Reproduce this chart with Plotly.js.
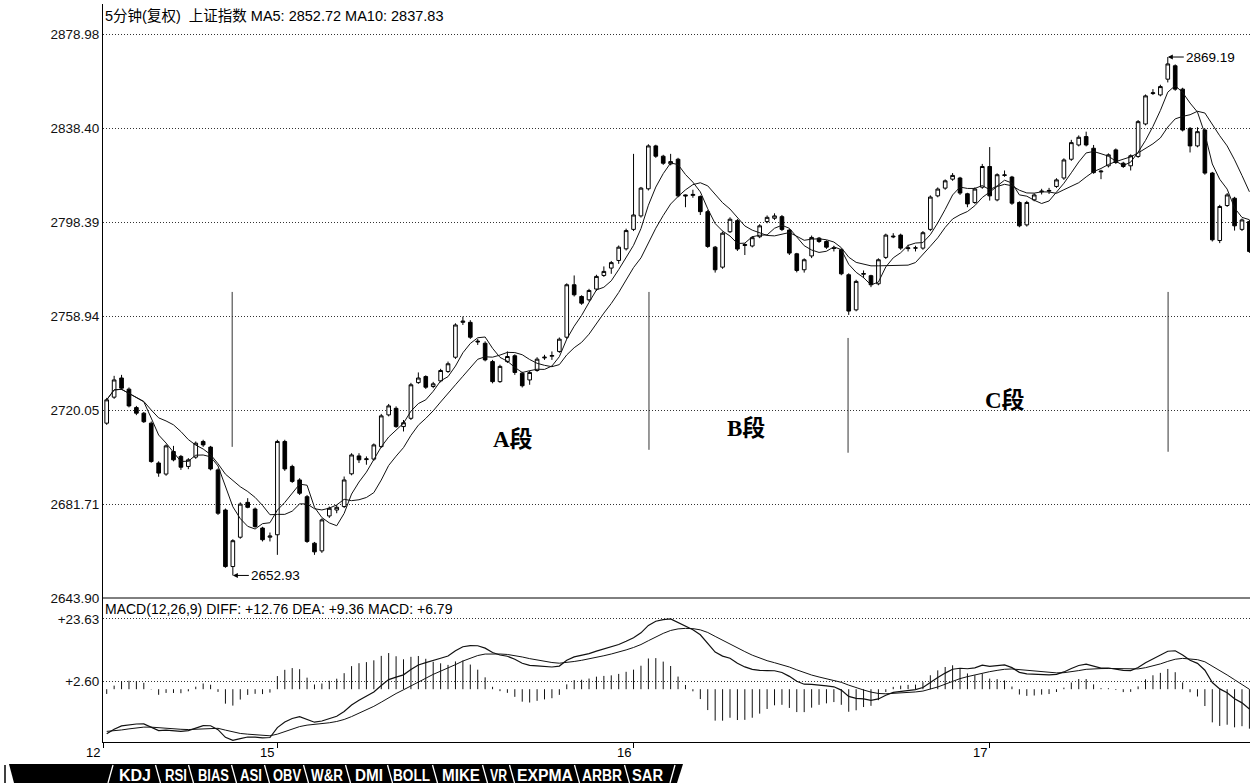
<!DOCTYPE html>
<html><head><meta charset="utf-8">
<script src="https://cdn.plot.ly/plotly-3.0.1.min.js"></script>
<style>
html,body{margin:0;padding:0;background:#fff;overflow:hidden;}
#chart{position:absolute;left:0;top:0;width:1252px;height:783px;}
#tabs{position:absolute;left:0;top:0;pointer-events:none;}
</style>
</head><body>
<div id="chart"></div>
<svg id="tabs" width="1252" height="783" xmlns="http://www.w3.org/2000/svg"></svg>
<script>
// ---------------- data (5-minute bars, 上证指数) ----------------
const opens = [2714.7,2725.4,2733.3,2728.7,2721.1,2718.8,2714.7,2698.4,2693.9,2703.1,
2701.1,2697.0,2700.8,2707.2,2704.9,2695.6,2679.3,2656.5,2668.3,2682.4,
2679.7,2672.0,2668.3,2669.3,2707.2,2697.0,2691.5,2684.7,2665.9,2662.8,
2676.9,2679.3,2680.7,2694.0,2701.3,2699.8,2700.0,2705.1,2718.1,2720.8,
2713.3,2716.7,2731.4,2733.9,2729.8,2732.1,2736.0,2741.9,2756.4,2756.4,
2748.6,2747.7,2740.1,2731.8,2740.1,2742.5,2735.3,2732.5,2736.4,2741.6,
2742.3,2744.3,2750.2,2772.1,2767.2,2765.8,2770.3,2776.0,2779.1,2782.3,
2787.2,2795.4,2801.1,2812.6,2830.9,2826.5,2823.2,2825.2,2810.0,2809.8,
2809.3,2802.9,2787.9,2779.5,2794.4,2799.1,2788.6,2788.4,2792.3,2798.7,
2800.1,2800.8,2795.1,2785.1,2778.4,2784.2,2791.7,2790.3,2787.6,2786.8,
2776.3,2761.6,2776.5,2775.9,2772.5,2783.6,2792.2,2793.0,2787.3,2787.5,
2787.5,2795.4,2809.6,2812.9,2816.7,2817.2,2810.5,2806.8,2813.3,2822.1,
2807.9,2818.3,2817.6,2806.8,2797.3,2807.9,2811.3,2811.6,2813.6,2817.2,
2825.2,2831.3,2834.9,2829.9,2819.8,2822.4,2829.2,2823.5,2822.4,2826.4,
2840.3,2853.4,2852.8,2859.6,2865.4,2855.3,2838.4,2830.9,2837.7,2819.3,
2790.7,2805.5,2808.6,2795.4,2798.7];
const highs = [2725.1,2734.2,2734.6,2729.4,2721.8,2719.3,2715.4,2699.1,2706.0,2705.4,
2701.7,2700.4,2707.2,2707.9,2705.4,2696.2,2679.9,2667.5,2682.4,2684.1,
2680.3,2672.5,2670.2,2707.9,2707.9,2697.7,2692.2,2685.4,2666.4,2675.9,
2680.7,2681.3,2692.9,2702.4,2702.4,2701.1,2706.4,2718.5,2722.6,2721.6,
2716.0,2731.3,2735.6,2734.4,2731.7,2737.1,2740.1,2756.0,2758.8,2757.3,
2749.5,2748.5,2740.8,2738.8,2744.3,2743.1,2735.9,2736.3,2741.9,2742.9,
2744.3,2750.1,2772.7,2776.0,2767.7,2770.4,2776.3,2779.8,2782.1,2788.6,
2795.7,2827.5,2813.4,2831.6,2831.4,2827.1,2827.5,2825.8,2810.2,2812.2,
2809.8,2803.6,2788.4,2794.5,2800.5,2799.8,2789.6,2792.6,2797.6,2801.3,
2802.2,2801.5,2795.6,2785.5,2783.2,2792.8,2792.2,2790.8,2788.5,2787.4,
2776.9,2774.2,2778.1,2776.3,2783.2,2793.6,2793.8,2793.6,2788.9,2788.5,
2794.7,2809.8,2813.2,2816.6,2819.3,2817.7,2810.9,2813.2,2823.2,2830.4,
2819.2,2820.4,2818.1,2807.3,2807.5,2810.7,2812.6,2813.0,2817.1,2825.6,
2833.5,2835.4,2837.0,2831.3,2820.7,2827.7,2829.8,2824.1,2827.3,2842.0,
2853.0,2855.3,2857.2,2869.19,2866.0,2855.9,2839.0,2838.9,2838.4,2819.8,
2805.8,2810.8,2809.2,2800.0,2799.4];
const lows = [2714.0,2724.7,2728.4,2721.2,2718.0,2714.8,2698.5,2692.8,2693.2,2699.1,
2695.6,2695.9,2700.1,2705.0,2695.4,2677.3,2656.0,2652.93,2667.7,2680.0,
2672.1,2666.6,2666.6,2661.2,2695.2,2690.3,2685.4,2666.0,2661.2,2662.0,
2676.1,2678.0,2680.1,2693.4,2698.4,2697.7,2699.3,2704.6,2717.5,2712.8,
2711.3,2716.0,2730.9,2728.8,2729.1,2731.5,2735.4,2741.2,2755.3,2749.5,
2747.0,2740.2,2731.1,2731.3,2739.5,2734.6,2729.4,2730.5,2735.9,2740.8,
2740.8,2743.7,2749.5,2767.2,2763.7,2765.1,2769.5,2775.4,2776.7,2780.9,
2786.5,2794.7,2800.4,2811.9,2825.8,2822.8,2822.6,2809.0,2804.8,2808.8,
2801.5,2787.6,2777.2,2778.8,2793.9,2786.3,2784.6,2787.8,2791.7,2798.0,
2799.4,2794.7,2784.6,2777.3,2777.2,2783.3,2789.7,2787.2,2786.1,2776.1,
2759.5,2761.0,2774.9,2771.1,2771.9,2782.9,2791.7,2786.8,2786.1,2786.1,
2786.8,2794.7,2809.0,2812.2,2816.0,2810.0,2804.8,2806.2,2812.6,2807.6,
2807.3,2817.7,2805.8,2796.3,2796.6,2807.3,2810.2,2810.4,2813.0,2816.4,
2824.5,2830.7,2830.7,2819.0,2816.7,2821.7,2823.2,2821.5,2820.4,2825.8,
2839.7,2852.8,2852.2,2858.2,2854.6,2837.1,2828.1,2830.3,2818.6,2790.3,
2789.6,2804.9,2794.9,2794.7,2785.5];
const closes = [2724.3,2732.5,2729.1,2721.8,2718.8,2715.3,2699.0,2694.3,2705.4,2699.7,
2696.7,2699.7,2706.5,2705.8,2696.0,2678.0,2656.5,2666.9,2681.7,2680.4,
2672.6,2667.3,2668.8,2707.2,2696.0,2690.9,2686.1,2666.6,2662.4,2675.3,
2680.0,2680.4,2691.5,2701.7,2699.7,2700.1,2705.8,2717.7,2721.8,2713.3,
2714.9,2730.5,2733.3,2729.5,2730.9,2736.4,2739.2,2755.3,2756.9,2750.2,
2748.3,2740.8,2731.8,2738.1,2742.2,2735.6,2730.1,2735.6,2741.1,2741.9,
2742.6,2749.4,2772.1,2767.9,2764.4,2769.7,2775.6,2777.7,2781.4,2787.9,
2794.9,2801.5,2812.9,2830.9,2826.5,2823.5,2824.2,2809.6,2809.6,2810.2,
2802.9,2788.2,2778.4,2793.8,2799.7,2787.1,2789.0,2791.9,2796.9,2800.5,
2801.1,2795.4,2785.4,2778.1,2782.6,2792.0,2790.3,2787.9,2787.4,2776.7,
2761.1,2773.5,2776.8,2772.1,2782.6,2793.0,2792.5,2787.5,2787.6,2787.6,
2794.0,2809.1,2812.5,2816.0,2818.3,2810.8,2806.2,2812.5,2822.1,2809.6,
2818.6,2818.5,2806.5,2796.9,2806.8,2810.0,2811.6,2811.9,2816.4,2824.9,
2832.3,2834.6,2831.3,2819.5,2820.1,2827.1,2823.8,2822.1,2826.7,2841.3,
2852.4,2853.7,2856.4,2866.2,2855.3,2837.7,2830.9,2837.0,2819.3,2791.0,
2805.1,2810.0,2796.9,2799.4,2786.1];

// price-axis tick labels and MACD tick labels
const priceTicks = [2643.90, 2681.71, 2720.05, 2758.94, 2798.39, 2838.40, 2878.98];
const priceTickText = ['2643.90','2681.71','2720.05','2758.94','2798.39','2838.40','2878.98'];
const macdTicks = [23.63, 2.60];
const macdTickText = ['+23.63', '+2.60'];
// trading-day labels and the bar index where each day begins
const dayLabels = ['12', '15', '16', '17'];
const dayStart = [-0.45, 23, 71, 119];
// MACD state carried in from bars before the first one shown
const seedEma12 = 2727.0;
const seedEma26 = 2742.0;
const seedDea = -14.2;
// segment markers (bar index, top and bottom price)
const segIndex = [16.91, 73.08, 99.91, 143.04];
const segTop = [2769.1, 2769.1, 2749.9, 2769.1];
const segBottom = [2705.0, 2703.8, 2702.6, 2703.0];
const segNames = ['A段', 'B段', 'C段'];
const segNameIndex = [54.8, 86.2, 121.1];
const segNamePrice = [2708.3, 2712.8, 2724.3];
// extreme labels
const lowIndex = 17, lowValue = 2652.93;
const highIndex = 143, highValue = 2869.19;

// ---------------- derived series ----------------
const n = closes.length;
const idx = closes.map((_, i) => i);
function movingAverage(p) {
  return closes.map((_, i) => {
    const s = Math.max(0, i - p + 1);
    let sum = 0;
    for (let k = s; k <= i; k++) sum += closes[k];
    return sum / (i - s + 1);
  });
}
const ma5 = movingAverage(5);
const ma10 = movingAverage(10);

const diff = [], dea = [], macd = [];
let e12 = seedEma12, e26 = seedEma26, d = seedDea;
for (let i = 0; i < n; i++) {
  if (i > 0) {
    e12 = e12 + (closes[i] - e12) * 2 / 13;
    e26 = e26 + (closes[i] - e26) * 2 / 27;
  }
  const df = e12 - e26;
  if (i > 0) d = d + (df - d) * 2 / 10;
  diff.push(df); dea.push(d); macd.push(2 * (df - d));
}
const histX = [], histY = [];
for (let i = 0; i < n; i++) { histX.push(i, i, null); histY.push(0, macd[i], null); }

const segX = [], segY = [];
segIndex.forEach((x, k) => { segX.push(x, x, null); segY.push(segBottom[k], segTop[k], null); });

// ---------------- layout geometry ----------------
const H = 783, plotTop = 4, plotBottom = 742, sepY = 598;
const plotH = plotBottom - plotTop;
const mainDomainBottom = (plotBottom - sepY) / plotH;
const logBottom = Math.log10(priceTicks[0]);
const logPerPx = (Math.log10(priceTicks[6]) - logBottom) / 563.5;
const logTop = logBottom + logPerPx * (sepY - plotTop);
const pyToPaper = py => (plotBottom - py) / plotH;

const fontLatin = 'Liberation Sans, Arial, Noto Sans CJK SC, sans-serif';

const traces = [
  {type:'candlestick', x: idx, open: opens, high: highs, low: lows, close: closes,
   xaxis:'x', yaxis:'y', whiskerwidth:0, hoverinfo:'skip', showlegend:false,
   increasing:{line:{color:'#000', width:1}, fillcolor:'#fff'},
   decreasing:{line:{color:'#000', width:1}, fillcolor:'#000'}},
  {type:'scatter', mode:'lines', x: idx, y: ma5, xaxis:'x', yaxis:'y',
   line:{color:'#111', width:1}, hoverinfo:'skip', showlegend:false},
  {type:'scatter', mode:'lines', x: idx, y: ma10, xaxis:'x', yaxis:'y',
   line:{color:'#111', width:1}, hoverinfo:'skip', showlegend:false},
  {type:'scatter', mode:'lines', x: segX, y: segY, xaxis:'x', yaxis:'y',
   line:{color:'#333', width:1}, hoverinfo:'skip', showlegend:false},
  {type:'scatter', mode:'lines', x: histX, y: histY, xaxis:'x', yaxis:'y2',
   line:{color:'#111', width:1}, hoverinfo:'skip', showlegend:false},
  {type:'scatter', mode:'lines', x: idx, y: diff, xaxis:'x', yaxis:'y2',
   line:{color:'#111', width:1.2}, hoverinfo:'skip', showlegend:false},
  {type:'scatter', mode:'lines', x: idx, y: dea, xaxis:'x', yaxis:'y2',
   line:{color:'#111', width:1}, hoverinfo:'skip', showlegend:false}
];

const annotations = [
  {xref:'paper', yref:'paper', x:0, y:pyToPaper(16), xanchor:'left', yanchor:'middle', xshift:0,
   showarrow:false, text:'5分钟(复权)&nbsp; 上证指数 MA5: 2852.72 MA10: 2837.83',
   font:{family:fontLatin, size:14.5, color:'#000'}},
  {xref:'paper', yref:'paper', x:0, y:pyToPaper(608.5), xanchor:'left', yanchor:'middle', xshift:0,
   showarrow:false, text:'MACD(12,26,9) DIFF: +12.76 DEA: +9.36 MACD: +6.79',
   font:{family:fontLatin, size:14, color:'#000'}},
  {xref:'x', yref:'y', x: lowIndex, y: Math.log10(lowValue), ax: 16, ay: 0, xanchor:'left', yanchor:'middle',
   showarrow:true, arrowhead:2, arrowsize:1, arrowwidth:1, arrowcolor:'#000', standoff:0,
   text: lowValue.toFixed(2), font:{family:fontLatin, size:13.5, color:'#000'}},
  {xref:'x', yref:'y', x: highIndex, y: Math.log10(highValue), ax: 16, ay: 0, xanchor:'left', yanchor:'middle',
   showarrow:true, arrowhead:2, arrowsize:1, arrowwidth:1, arrowcolor:'#000', standoff:0,
   text: highValue.toFixed(2), font:{family:fontLatin, size:13.5, color:'#000'}}
];
segNames.forEach((t, k) => annotations.push({
  xref:'x', yref:'y', x: segNameIndex[k], y: Math.log10(segNamePrice[k]), showarrow:false,
  xanchor:'center', yanchor:'middle', text:'<b>' + t + '</b>',
  font:{family:'Liberation Serif, Noto Sans CJK SC, serif', size:23, color:'#000'}
}));
dayLabels.forEach((t, k) => annotations.push({
  xref:'x', yref:'paper', x: dayStart[k], y: pyToPaper(752.5), showarrow:false,
  xanchor:'right', yanchor:'middle', xshift:-1, text:t,
  font:{family:fontLatin, size:13, color:'#000'}
}));

const layout = {
  width:1252, height:H, autosize:false,
  margin:{l:103, r:2, t:plotTop, b:H - plotBottom, pad:0},
  paper_bgcolor:'#fff', plot_bgcolor:'#fff', showlegend:false,
  xaxis:{anchor:'y2', range:[-0.5, 154.08], showgrid:false, zeroline:false,
    showline:true, linecolor:'#000', linewidth:1,
    tickmode:'array', tickvals: dayStart, ticks:'outside', ticklen:5, tickwidth:1, tickcolor:'#000',
    showticklabels:false, rangeslider:{visible:false}, fixedrange:true},
  yaxis:{domain:[mainDomainBottom, 1], type:'log', range:[logBottom, logTop],
    tickmode:'array', tickvals: priceTicks, ticktext: priceTickText,
    showgrid:true, gridcolor:'#333', gridwidth:1, griddash:'1px,2px',
    zeroline:false, showline:true, linecolor:'#000', linewidth:1, ticks:'',
    tickfont:{family:fontLatin, size:13.5, color:'#111'}, fixedrange:true},
  yaxis2:{domain:[0, mainDomainBottom], range:[-17.77, 30.69],
    tickmode:'array', tickvals: macdTicks, ticktext: macdTickText,
    showgrid:true, gridcolor:'#333', gridwidth:1, griddash:'1px,2px',
    zeroline:false, showline:true, linecolor:'#000', linewidth:1, ticks:'',
    tickfont:{family:fontLatin, size:13.5, color:'#111'}, fixedrange:true},
  shapes:[
    {type:'line', xref:'paper', yref:'paper', x0:0, x1:1, y0:mainDomainBottom, y1:mainDomainBottom,
     line:{color:'#000', width:1}}
  ],
  annotations: annotations
};

Plotly.newPlot('chart', traces, layout, {displayModeBar:false, staticPlot:true});

// ---------------- indicator tab strip at the bottom ----------------
const tabNames = ['KDJ','RSI','BIAS','ASI','OBV','W&R','DMI','BOLL','MIKE','VR','EXPMA','ARBR','SAR'];
const tabLeft  = [119,165,198,240,273,311,355,393,442,490,517,582,632];
const tabRight = [151,187,229,262,301,343,383,430,480,507,573,622,663];
const tabSeps  = [158,191,234,267,306,348,390,435,485,512,577,627];
const svg = document.getElementById('tabs');
const NS = 'http://www.w3.org/2000/svg';
function el(name, attrs, txt) {
  const e = document.createElementNS(NS, name);
  for (const k in attrs) e.setAttribute(k, attrs[k]);
  if (txt !== undefined) e.textContent = txt;
  svg.appendChild(e); return e;
}
el('line', {x1:5, y1:765, x2:5, y2:783, stroke:'#000', 'stroke-width':1.5});
el('polygon', {points:'9,764 683,764 677,783 14,783', fill:'#000'});
el('line', {x1:108, y1:783, x2:113, y2:765, stroke:'#fff', 'stroke-width':1.3});
el('line', {x1:670, y1:783, x2:675, y2:765, stroke:'#fff', 'stroke-width':1.3});
tabSeps.forEach(s => el('line', {x1:s - 2.5, y1:765, x2:s + 2.5, y2:783, stroke:'#fff', 'stroke-width':1.3}));
tabNames.forEach((t, k) => el('text', {
  x: tabLeft[k], y: 781, fill:'#fff', 'font-family':'Liberation Sans, Arial, sans-serif',
  'font-weight':'bold', 'font-size':16, textLength: tabRight[k] - tabLeft[k], lengthAdjust:'spacingAndGlyphs'
}, t));
</script>
</body></html>
